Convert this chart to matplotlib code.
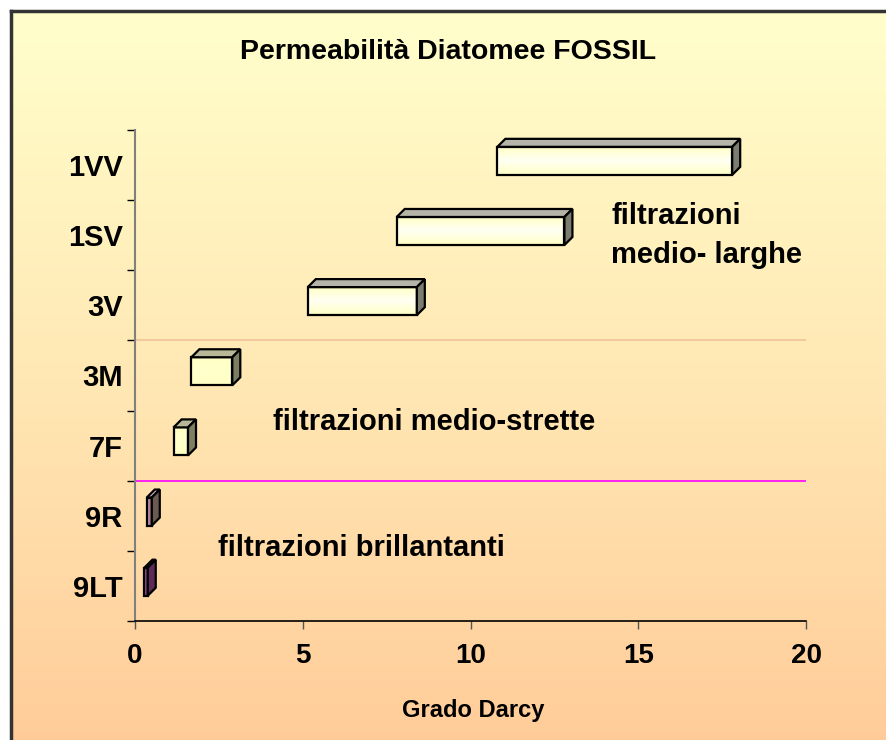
import matplotlib
matplotlib.use('Agg')
import matplotlib.pyplot as plt
import numpy as np
from matplotlib.patches import Polygon, Rectangle
from matplotlib.colors import LinearSegmentedColormap

plt.rcParams['font.family'] = ['Liberation Sans', 'DejaVu Sans']
plt.rcParams['font.weight'] = 'bold'

# data (Grado Darcy ranges)
categories = ['9LT', '9R', '7F', '3M', '3V', '1SV', '1VV']
low = [0.28, 0.35, 1.15, 1.68, 5.15, 7.8, 10.8]
high = [0.38, 0.50, 1.58, 2.9, 8.4, 12.8, 17.8]
x_ticks = [0, 5, 10, 15, 20]

# colours per bar: (front light, front dark, top, side)
bar_colors = [
    ('#A85AA8', '#7A2E72', '#C080B8', '#5E2A58'),
    ('#D898C0', '#7E6A5E', '#C8A8B8', '#6A5A50'),
    ('#FFFFCC', '#FFFFC4', '#B8B898', '#7E7E62'),
    ('#FFFFCC', '#FFFFC4', '#B8B898', '#7E7E62'),
    ('#FFFFF4', '#FFFFC4', '#B4B4A8', '#7C7C70'),
    ('#FFFFF4', '#FFFFC4', '#B4B4A8', '#7C7C70'),
    ('#FFFFF4', '#FFFFC4', '#B4B4A8', '#7C7C70'),
]

W, H = 886, 740
fig = plt.figure(figsize=(W / 100, H / 100), dpi=100)
fig.patch.set_facecolor('white')

# background panel with gradient
bg = fig.add_axes([11 / W, -0.01, 1.02 - 11 / W, 1.01 - 11 / H])
grad = np.linspace(0, 1, 256).reshape(-1, 1)
bg_cmap = LinearSegmentedColormap.from_list('bg', ['#FFFFCC', '#FFE8B4', '#FFCC99'])
bg.imshow(grad, aspect='auto', cmap=bg_cmap, extent=[0, 1, 0, 1], origin='upper')
bg.set_xticks([])
bg.set_yticks([])
for s in ['right', 'bottom']:
    bg.spines[s].set_visible(False)
for s in ['left', 'top']:
    bg.spines[s].set_color('#333333')
    bg.spines[s].set_linewidth(2.5)

ax_l, ax_r, ax_t, ax_b = 135, 806, 130, 621
ax = fig.add_axes([ax_l / W, 1 - ax_b / H, (ax_r - ax_l) / W, (ax_b - ax_t) / H])
ax.patch.set_alpha(0)

px_x = (ax_r - ax_l) / 20.0
px_y = (ax_b - ax_t) / 7.0
dx = 8 / px_x
dy = 8 / px_y


def gradient_fill(ax, x0, x1, y0, y1, c1, c2, horizontal=False):
    if horizontal:
        g = np.linspace(0, 1, 64).reshape(1, -1)
    else:
        g = np.abs(np.linspace(-1, 1, 64)).reshape(-1, 1)
    cm = LinearSegmentedColormap.from_list('g', [c1, c2])
    im = ax.imshow(g, aspect='auto', cmap=cm, extent=[x0, x1, y0, y1],
                   origin='lower', zorder=3, vmin=0, vmax=1, interpolation='bilinear')
    return im


for i, cat in enumerate(categories):
    x0, x1 = low[i], high[i]
    y0, y1 = i - 0.14, i + 0.26
    cf1, cf2, ct, cs = bar_colors[i]
    gradient_fill(ax, x0, x1, y0, y1, cf1, cf2, horizontal=(i < 2))
    front = Rectangle((x0, y0), x1 - x0, y1 - y0, facecolor='none',
                      edgecolor='black', linewidth=1.6, zorder=4)
    ax.add_patch(front)
    top = Polygon([(x0, y1), (x1, y1), (x1 + dx, y1 + dy), (x0 + dx, y1 + dy)],
                  closed=True, facecolor=ct, edgecolor='black', linewidth=1.6, zorder=4)
    side = Polygon([(x1, y0), (x1 + dx, y0 + dy), (x1 + dx, y1 + dy), (x1, y1)],
                   closed=True, facecolor=cs, edgecolor='black', linewidth=1.6, zorder=4)
    ax.add_patch(top)
    ax.add_patch(side)

ax.set_xlim(0, 20)
ax.set_ylim(-0.5, 6.5)

# separating lines
ax.plot([0, 20], [3.5, 3.5], color='#F2C29A', linewidth=1.2, zorder=2)
ax.plot([0, 20], [1.5, 1.5], color='#FF00FF', linewidth=1.2, zorder=2)

# axes styling
for s in ['top', 'right']:
    ax.spines[s].set_visible(False)
ax.spines['left'].set_color('#808080')
ax.spines['left'].set_linewidth(1.5)
ax.spines['bottom'].set_color('black')
ax.spines['bottom'].set_linewidth(1.2)

ax.set_yticks(np.arange(-0.5, 7, 1))
ax.set_yticklabels([])
ax.set_yticks(range(len(categories)), minor=True)
ax.set_yticklabels(categories, minor=True, fontsize=21, fontweight='bold')
ax.tick_params(axis='y', which='major', length=6, width=1, color='black', direction='out')
ax.tick_params(axis='y', which='minor', length=0, pad=9)

ax.set_xticks(x_ticks)
ax.set_xticklabels([str(v) for v in x_ticks], fontsize=20, fontweight='bold')
ax.tick_params(axis='x', length=6, width=1, color='#555555', pad=10)

# texts
fig.text(448 / W, 1 - 52 / H, 'Permeabilità Diatomee FOSSIL', ha='center', va='center',
         fontsize=20.5, fontweight='bold')
fig.text(473 / W, 1 - 710 / H, 'Grado Darcy', ha='center', va='center',
         fontsize=17, fontweight='bold')
fig.text(611 / W, 1 - 216 / H, 'filtrazioni', ha='left', va='center',
         fontsize=21, fontweight='bold')
fig.text(611 / W, 1 - 255 / H, 'medio- larghe', ha='left', va='center',
         fontsize=21, fontweight='bold')
fig.text(273 / W, 1 - 422 / H, 'filtrazioni medio-strette', ha='left', va='center',
         fontsize=21, fontweight='bold')
fig.text(218 / W, 1 - 548 / H, 'filtrazioni brillantanti', ha='left', va='center',
         fontsize=21, fontweight='bold')

fig.savefig('out.png', dpi=100)
